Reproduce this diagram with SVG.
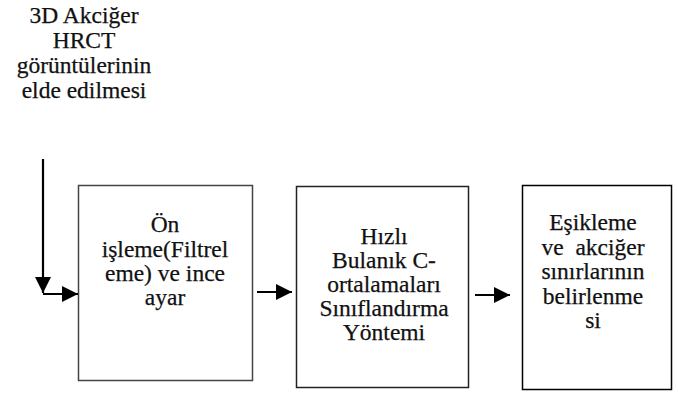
<svg xmlns="http://www.w3.org/2000/svg" width="678" height="400" viewBox="0 0 678 400">
<defs>
<marker id="ah" markerWidth="16" markerHeight="16" viewBox="0 0 16 16" refX="16" refY="8" orient="auto" markerUnits="userSpaceOnUse">
<path d="M0,0 L16,8 L0,16 Z" fill="#000"/>
</marker>
</defs>
<style>
text{font-family:"Liberation Serif","Times New Roman",serif;font-size:23.5px;fill:#111;stroke:#111;stroke-width:0.25;text-anchor:middle;white-space:pre}
.box{fill:#fff;stroke:#222;stroke-width:1.5}
.conn{stroke:#000;stroke-width:2.2;fill:none}
</style>
<rect width="678" height="400" fill="#fff"/>
<g id="input">
<text x="84" y="23">3D Akciğer</text>
<text x="84" y="48">HRCT</text>
<text x="84" y="73">görüntülerinin</text>
<text x="84" y="98">elde edilmesi</text>
</g>
<g id="n1">
<rect class="box" x="78.5" y="185.5" width="174" height="195" style="stroke:#444"/>
<text x="165" y="232">Ön</text>
<text x="165" y="257">işleme(Filtrel</text>
<text x="165" y="281">eme) ve ince</text>
<text x="165" y="305">ayar</text>
</g>
<g id="n2">
<rect class="box" x="296.5" y="186.5" width="172" height="201"/>
<text x="384" y="244">Hızlı</text>
<text x="384" y="268">Bulanık C-</text>
<text x="384" y="292">ortalamaları</text>
<text x="384" y="316">Sınıflandırma</text>
<text x="384" y="340">Yöntemi</text>
</g>
<g id="n3">
<rect class="box" x="522.5" y="185.5" width="149" height="204" style="stroke:#000"/>
<text x="593" y="230">Eşikleme</text>
<text x="593" y="255">ve  akciğer</text>
<text x="593" y="279">sınırlarının</text>
<text x="593" y="304">belirlenme</text>
<text x="593" y="328">si</text>
</g>
<g id="connectors">
<path class="conn" d="M43,159 V293" marker-end="url(#ah)"/>
<path class="conn" d="M43,294 H78" marker-end="url(#ah)"/>
<path class="conn" d="M257,292 H292" marker-end="url(#ah)"/>
<path class="conn" d="M475,295 H510" marker-end="url(#ah)"/>
</g>
</svg>
